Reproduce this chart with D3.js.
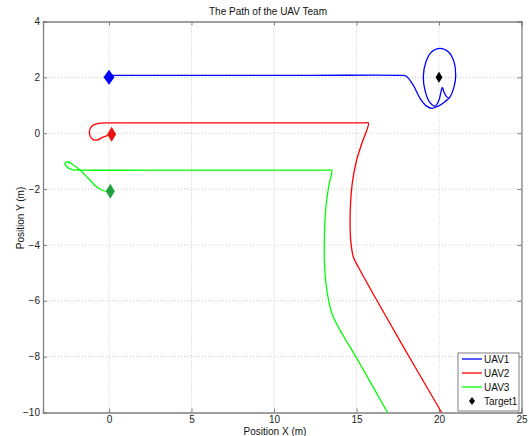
<!DOCTYPE html>
<html>
<head>
<meta charset="utf-8">
<script src="https://cdn.jsdelivr.net/npm/d3@7"></script>
<style>
  html, body { margin: 0; padding: 0; background: #fff; }
  svg { display: block; font-family: "Liberation Sans", Arial, sans-serif; }
</style>
</head>
<body>
<svg id="chart" width="529" height="436"></svg>
<script>
// ---- Data ----
const xTicks = [0, 5, 10, 15, 20, 25];
const yTicks = [4, 2, 0, -2, -4, -6, -8, -10];

const uav1X = [0, 6, 12, 17.7, 18.0, 18.44, 18.85, 19.25, 19.56, 19.96, 20.36, 20.67, 20.91, 21.01, 20.91, 20.56, 20.06, 19.56, 19.21, 19.05, 19.15, 19.41, 19.76, 20.0, 20.12, 20.2, 20.3, 20.47, 20.62];
const uav1Y = [2.07, 2.07, 2.07, 2.07, 2.05, 1.72, 1.25, 0.97, 0.89, 0.97, 1.13, 1.30, 1.66, 2.02, 2.56, 2.92, 3.04, 2.92, 2.56, 2.02, 1.54, 1.13, 0.97, 1.19, 1.48, 1.64, 1.48, 1.30, 1.25];

const uav2X = [0.16, -0.36, -0.75, -1.05, -1.19, -1.05, -0.65, -0.04, 0.85, 8, 15.5, 15.72, 15.32, 15.01, 14.77, 14.65, 14.61, 14.65, 14.81, 15.11, 17.6, 20.16];
const uav2Y = [-0.04, -0.14, -0.25, -0.19, 0.05, 0.25, 0.35, 0.37, 0.37, 0.37, 0.37, 0.37, -0.37, -0.96, -1.68, -2.40, -3.11, -3.83, -4.43, -4.79, -7.40, -10.0];

const uav3X = [0.08, -0.35, -0.75, -1.25, -1.76, -2.16, -2.47, -2.67, -2.57, -2.24, -1.56, 5, 13.3, 13.5, 13.35, 13.19, 13.09, 13.05, 13.05, 13.15, 13.35, 13.59, 15.24, 16.88];
const uav3Y = [-2.08, -2.06, -1.92, -1.62, -1.32, -1.14, -1.03, -1.07, -1.19, -1.30, -1.32, -1.32, -1.32, -1.32, -1.80, -2.40, -3.11, -3.83, -4.55, -5.38, -6.10, -6.58, -8.29, -10.0];

const startNames = ["UAV1", "UAV2", "UAV3"];
const startX = [0, 0.16, 0.08];
const startY = [2, -0.04, -2.08];
const targetX = [20];
const targetY = [2];

const legendLabels = ["UAV1", "UAV2", "UAV3", "Target1"];
const lineColors = ["#0000ff", "#ff0000", "#00ff00"];
const startColors = ["#0000ff", "#ee1111", "#22a040"];

(function () {
// ---- Layout ----
const svg = d3.select("#chart");
const pL = 43, pR = 521.5, pT = 21.5, pB = 412.5;
const x = d3.scaleLinear().domain([-4, 25]).range([pL, pR]);
const y = d3.scaleLinear().domain([-10, 4]).range([pB, pT]);

// grid
const grid = svg.append("g");
grid.selectAll("line.gx").data(xTicks.filter(t => t > -4 && t < 25)).enter().append("line")
  .attr("x1", d => x(d)).attr("x2", d => x(d)).attr("y1", pT).attr("y2", pB)
  .attr("stroke", "#c8c8c8").attr("stroke-width", 1).attr("stroke-dasharray", "1,2");
grid.selectAll("line.gy").data(yTicks.filter(t => t > -10 && t < 4)).enter().append("line")
  .attr("y1", d => y(d)).attr("y2", d => y(d)).attr("x1", pL).attr("x2", pR)
  .attr("stroke", "#c8c8c8").attr("stroke-width", 1).attr("stroke-dasharray", "1,2");

// axes
const axisColor = "#808080";
const xb = svg.append("g").attr("transform", `translate(0,${pB})`)
  .call(d3.axisBottom(x).tickValues(xTicks).tickSize(-4).tickPadding(3).tickFormat(d3.format("d")));
const xt = svg.append("g").attr("transform", `translate(0,${pT})`)
  .call(d3.axisTop(x).tickValues(xTicks).tickSize(-4).tickFormat(""));
const yl = svg.append("g").attr("transform", `translate(${pL},0)`)
  .call(d3.axisLeft(y).tickValues(yTicks).tickSize(-4).tickPadding(3).tickFormat(d3.format("d")));
const yr = svg.append("g").attr("transform", `translate(${pR},0)`)
  .call(d3.axisRight(y).tickValues(yTicks).tickSize(-4).tickFormat(""));
[xb, xt, yl, yr].forEach(g => {
  g.select(".domain").attr("stroke", axisColor).attr("stroke-width", 1.3);
  g.selectAll(".tick line").attr("stroke", axisColor);
  g.selectAll(".tick text").attr("fill", "#222").attr("font-size", 10)
    .attr("font-family", "'Liberation Sans', Arial, sans-serif");
});

// paths
const line = d3.line().x(d => x(d[0])).y(d => y(d[1])).curve(d3.curveCatmullRom.alpha(0.5));
const series = [
  d3.zip(uav1X, uav1Y),
  d3.zip(uav2X, uav2Y),
  d3.zip(uav3X, uav3Y)
];
svg.append("g").selectAll("path").data(series).enter().append("path")
  .attr("d", line).attr("fill", "none")
  .attr("stroke", (d, i) => lineColors[i]).attr("stroke-width", 1.3);

// start markers (diamonds)
const diamond = (cx, cy, w, h) => `M${cx},${cy - h / 2}L${cx + w / 2},${cy}L${cx},${cy + h / 2}L${cx - w / 2},${cy}Z`;
svg.append("g").selectAll("path").data(startX.map((v, i) => i)).enter().append("path")
  .attr("d", i => diamond(x(startX[i]), y(startY[i]), i === 0 ? 11 : 9, 15))
  .attr("fill", i => startColors[i]);

// target
svg.append("g").selectAll("path").data(targetX.map((v, i) => i)).enter().append("path")
  .attr("d", i => diamond(x(targetX[i]), y(targetY[i]), 7, 11))
  .attr("fill", "#000");

// title and labels
svg.append("text").attr("x", 268).attr("y", 15).attr("text-anchor", "middle")
  .attr("font-size", 10).attr("fill", "#111").text("The Path of the UAV Team");
svg.append("text").attr("x", 275).attr("y", 435).attr("text-anchor", "middle")
  .attr("font-size", 10).attr("fill", "#111").text("Position X (m)");
svg.append("text").attr("transform", "translate(24,218) rotate(-90)").attr("text-anchor", "middle")
  .attr("font-size", 10).attr("fill", "#111").text("Position Y (m)");

// legend
const lg = svg.append("g");
lg.append("rect").attr("x", 458).attr("y", 353).attr("width", 61).attr("height", 58)
  .attr("fill", "#fff").attr("stroke", "#808080").attr("stroke-width", 1);
const ly = [359, 373, 387, 401];
legendLabels.forEach((lab, i) => {
  if (i < 3) {
    lg.append("line").attr("x1", 462).attr("x2", 482).attr("y1", ly[i]).attr("y2", ly[i])
      .attr("stroke", lineColors[i]).attr("stroke-width", 1.3);
  } else {
    lg.append("path").attr("d", diamond(472, ly[i], 6, 8)).attr("fill", "#000");
  }
  lg.append("text").attr("x", 484).attr("y", ly[i] + 3.5).attr("font-size", 10)
    .attr("fill", "#111").text(lab);
});
})();
</script>
</body>
</html>
